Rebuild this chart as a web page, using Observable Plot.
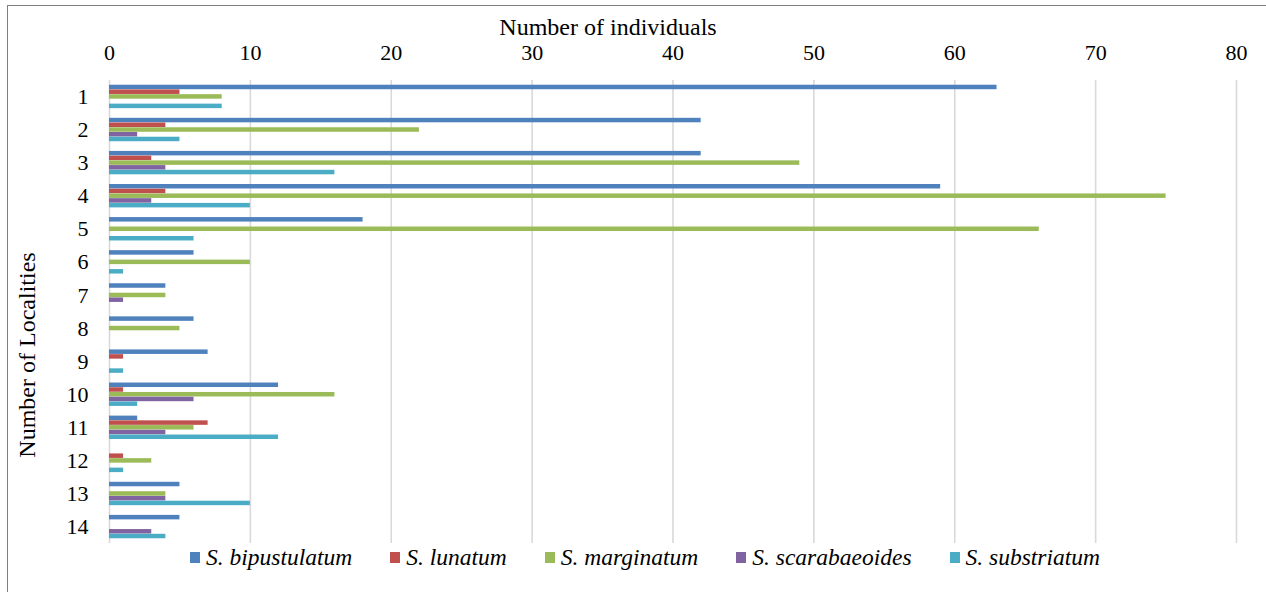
<!DOCTYPE html>
<html>
<head>
<meta charset="utf-8">
<script src="https://cdn.jsdelivr.net/npm/d3@7"></script>
<script src="https://cdn.jsdelivr.net/npm/@observablehq/plot@0.6"></script>
<style>
  html, body { margin: 0; padding: 0; background: #fff; }
  body { width: 1266px; height: 592px; position: relative; overflow: hidden;
         font-family: "Liberation Serif", serif; color: #000; }
  #frame { position: absolute; left: 7px; top: 5px; width: 1400px; height: 800px;
           border-left: 1.5px solid #808080; border-top: 1.5px solid #808080; }
  #xtitle { position: absolute; left: 0; width: 1216px; top: 15px; text-align: center;
            font-family: "Liberation Serif", serif; font-size: 24px; line-height: 24px; }
  #ytitle { position: absolute; left: 27px; top: 355px; width: 0; height: 0; }
  #ytitle span { position: absolute; left: 0; top: 0; transform: translate(-50%, -50%) rotate(-90deg);
                 white-space: nowrap; font-family: "Liberation Serif", serif; font-size: 24px; line-height: 24px; }
  #chart { position: absolute; left: 0; top: 38px; }
  #legend { position: absolute; left: 0; width: 1290px; top: 544px; height: 26px;
            display: flex; justify-content: center; align-items: center; gap: 38px;
            font-family: "Liberation Serif", serif; font-size: 23.5px; font-style: italic; line-height: 26px; }
  .item { display: flex; align-items: center; gap: 6px; white-space: nowrap; }
  .sw { width: 10px; height: 11px; display: inline-block; }
</style>
</head>
<body>
<div id="frame"></div>
<div id="xtitle"></div>
<div id="ytitle"><span></span></div>
<div id="chart"></div>
<div id="legend"></div>
<script>
const xTitle = "Number of individuals";
const yTitle = "Number of Localities";
const localities = ["1","2","3","4","5","6","7","8","9","10","11","12","13","14"];
const species = ["S. bipustulatum","S. lunatum","S. marginatum","S. scarabaeoides","S. substriatum"];
const colors = ["#4F81BD","#C0504D","#9BBB59","#8064A2","#4BACC6"];
const xTicks = [0,10,20,30,40,50,60,70,80];

const bipustulatum  = [63,42,42,59,18,6,4,6,7,12,2,0,5,5];
const lunatum       = [5,4,3,4,0,0,0,0,1,1,7,1,0,0];
const marginatum    = [8,22,49,75,66,10,4,5,0,16,6,3,4,0];
const scarabaeoides = [0,2,4,3,0,0,1,0,0,6,4,0,4,3];
const substriatum   = [8,5,16,10,6,1,0,0,1,2,12,1,10,4];

const series = [bipustulatum, lunatum, marginatum, scarabaeoides, substriatum];

const rows = [];
localities.forEach((loc, i) => {
  species.forEach((sp, j) => {
    rows.push({locality: loc, species: sp, key: loc + "|" + sp, value: series[j][i]});
  });
});
const yDomain = [];
localities.forEach(loc => {
  yDomain.push(loc + "|before");
  species.forEach(sp => yDomain.push(loc + "|" + sp));
  yDomain.push(loc + "|after");
});
const yTicks = localities.map(loc => loc + "|" + species[2]);

document.getElementById("xtitle").textContent = xTitle;
document.querySelector("#ytitle span").textContent = yTitle;

const serif = '"Liberation Serif", serif';
const chart = Plot.plot({
  width: 1266,
  height: 507,
  marginTop: 42,
  marginBottom: 2,
  marginLeft: 109,
  marginRight: 30,
  style: {fontFamily: serif, fontSize: "22px", color: "#000", background: "transparent", overflow: "visible"},
  x: {domain: [0, 80]},
  y: {domain: yDomain, paddingInner: 0.05, paddingOuter: 0},
  color: {domain: species, range: colors},
  marks: [
    Plot.gridX(xTicks, {stroke: "#d9d9d9", strokeOpacity: 1, strokeWidth: 1.6}),
    Plot.barX(rows, {x: "value", y: "key", fill: "species"}),
    Plot.axisX({anchor: "top", ticks: xTicks, tickSize: 0, tickPadding: 21, label: null,
                fontFamily: serif, fontSize: 22, fontVariant: "normal"}),
    Plot.axisY({anchor: "left", ticks: yTicks, tickFormat: k => k.split("|")[0], tickSize: 0, tickPadding: 21,
                label: null, fontFamily: serif, fontSize: 22, fontVariant: "normal"})
  ]
});
document.getElementById("chart").appendChild(chart);

const legend = document.getElementById("legend");
species.forEach((sp, j) => {
  const item = document.createElement("div");
  item.className = "item";
  const sw = document.createElement("span");
  sw.className = "sw";
  sw.style.background = colors[j];
  const t = document.createElement("span");
  t.textContent = sp;
  item.appendChild(sw);
  item.appendChild(t);
  legend.appendChild(item);
});
</script>
</body>
</html>
